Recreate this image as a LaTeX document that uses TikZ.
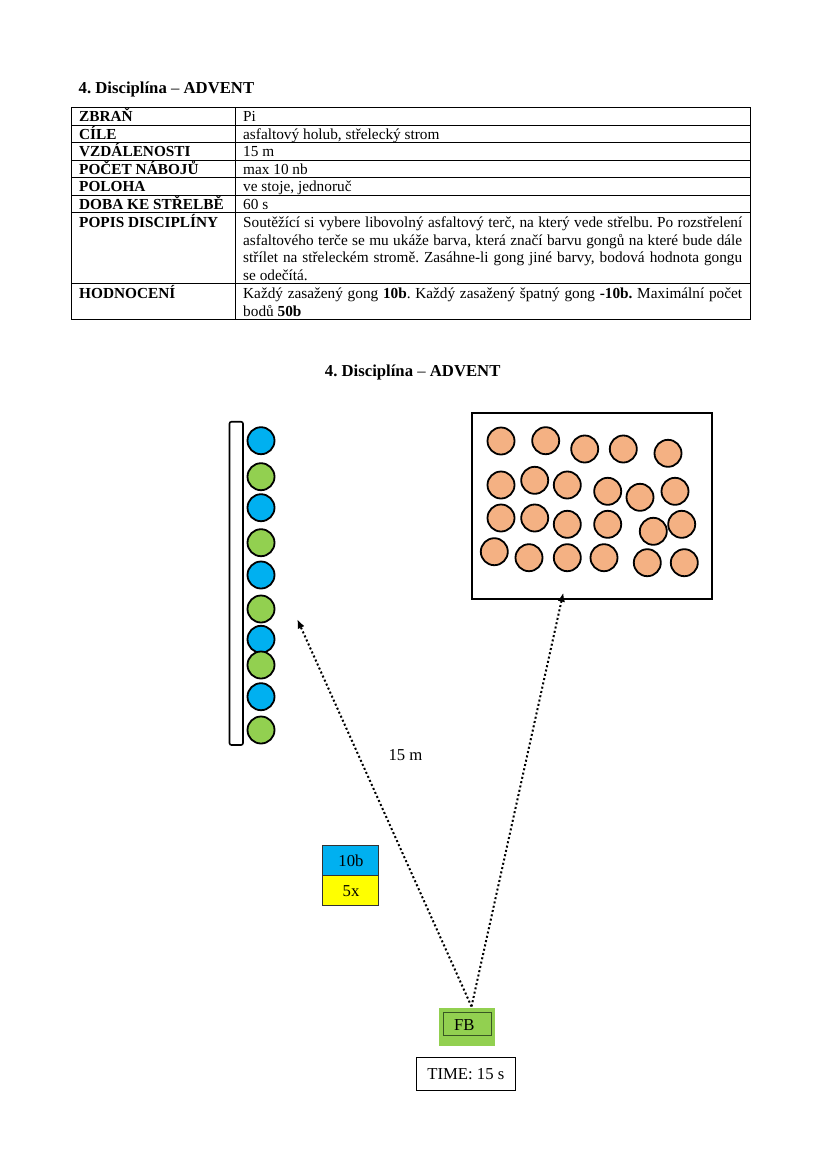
\documentclass[tikz,border=0pt]{standalone}
\usepackage{fontspec}
\setmainfont{Liberation Serif}
\usetikzlibrary{arrows.meta}
\definecolor{gblue}{RGB}{0,176,240}
\definecolor{ggreen}{RGB}{146,208,80}
\definecolor{gorange}{RGB}{244,177,131}
\definecolor{gyellow}{RGB}{255,255,0}
\definecolor{fbline}{RGB}{56,87,35}
\frenchspacing
\begin{document}
\begin{tikzpicture}[x=1pt,y=-1pt,
  tcell/.style={anchor=base west, inner sep=0pt, font=\fontsize{15.3}{17.6}\selectfont},
  tlabel/.style={tcell, font=\fontsize{15.3}{17.6}\selectfont\bfseries},
  heading/.style={inner sep=0pt, font=\fontsize{16.7}{19}\selectfont\bfseries},
  dtext/.style={inner sep=0pt, font=\fontsize{16.7}{19}\selectfont},
  rule/.style={line width=0.7pt},
  gong/.style={circle, draw=black, line width=1.8pt, minimum size=27pt, inner sep=0pt},
  bluegong/.style={gong, fill=gblue},
  greengong/.style={gong, fill=ggreen},
  clay/.style={gong, fill=gorange},
  legendbox/.style={draw=black!80, line width=0.6pt, minimum width=56pt, minimum height=30pt, inner sep=0pt, font=\fontsize{16.7}{19}\selectfont},
  shot/.style={line width=2pt, dash pattern=on 2pt off 2.4pt, -{Latex[length=9pt,width=7.5pt]}}
]
\useasboundingbox[fill=white] (0,0) rectangle (827,1170);

% ---------- heading ----------
\node[heading, anchor=base west] (h1) at (78.5,93.5) {4. Disciplína \textmd{–} ADVENT};

% ---------- table ----------
\draw[rule] (71,107.5) rectangle (750,319.5);
\draw[rule] (235,107.5) -- (235,319.5);
\foreach \yy in {125,142.5,160,177.5,195,212.5,283.5}
  \draw[rule] (71,\yy) -- (750,\yy);

\node[tlabel] (l1) at (79,121.5) {ZBRAŇ};
\node[tlabel] (l2) at (79,139) {CÍLE};
\node[tlabel] (l3) at (79,156.5) {VZDÁLENOSTI};
\node[tlabel] (l4) at (79,174) {POČET NÁBOJŮ};
\node[tlabel] (l5) at (79,191.5) {POLOHA};
\node[tlabel] (l6) at (79,209) {DOBA KE STŘELBĚ};
\node[tlabel] (l7) at (79,227.5) {POPIS DISCIPLÍNY};
\node[tlabel] (l8) at (79,298.5) {HODNOCENÍ};

\node[tcell] (v1) at (243,121.5) {Pi};
\node[tcell] (v2) at (243,139) {asfaltový holub, střelecký strom};
\node[tcell] (v3) at (243,156.5) {15 m};
\node[tcell] (v4) at (243,174) {max 10 nb};
\node[tcell] (v5) at (243,191.5) {ve stoje, jednoruč};
\node[tcell] (v6) at (243,209) {60 s};
\node[tcell] (v7a) at (243,227.5) {\makebox[499pt][s]{Soutěžící si vybere libovolný asfaltový terč, na který vede střelbu. Po rozstřelení}};
\node[tcell] (v7b) at (243,245) {\makebox[499pt][s]{asfaltového terče se mu ukáže barva, která značí barvu gongů na které bude dále}};
\node[tcell] (v7c) at (243,262.5) {\makebox[499pt][s]{střílet na střeleckém stromě. Zasáhne-li gong jiné barvy, bodová hodnota gongu}};
\node[tcell] (v7d) at (243,280) {se odečítá.};
\node[tcell] (v8a) at (243,298.5) {\makebox[499pt][s]{Každý zasažený gong \textbf{10b}. Každý zasažený špatný gong \textbf{-10b.} Maximální počet}};
\node[tcell] (v8b) at (243,316) {bodů \textbf{50b}};

% ---------- second heading ----------
\node[heading, anchor=base] (h2) at (412.7,376.7) {4. Disciplína \textmd{–} ADVENT};

% ---------- shooting tree (rack) ----------
\draw[line width=1.6pt, rounded corners=2pt] (229.5,421.7) rectangle (243,745);
\node[bluegong]  (g1)  at (261,440.7) {};
\node[greengong] (g2)  at (261,476.7) {};
\node[bluegong]  (g3)  at (261,507.7) {};
\node[greengong] (g4)  at (261,542.7) {};
\node[bluegong]  (g5)  at (261,575) {};
\node[greengong] (g6)  at (261,609) {};
\node[bluegong]  (g7)  at (261,639.3) {};
\node[greengong] (g8)  at (261,665) {};
\node[bluegong]  (g9)  at (261,696.7) {};
\node[greengong] (g10) at (261,730) {};

% ---------- clay target box ----------
\node[draw=black, line width=2pt, minimum width=240.6pt, minimum height=186.3pt, inner sep=0pt] (cbox) at (592,505.85) {};
\foreach \cx/\cy [count=\i] in {501/441, 545.7/440.7, 584.7/449, 623.3/449, 668/453.3,
  501/485, 534.7/480.3, 567.3/485, 607.7/491.3, 640/497.3, 675/491.3,
  501/518, 534.7/518, 567.3/524.3, 607.7/524.3, 653.3/531.3, 681.7/524.3,
  494.3/551.7, 529/557.7, 567.3/557.7, 604/557.7, 647.3/562.7, 684.3/562.7}
  \node[clay] (c\i) at (\cx,\cy) {};

% ---------- distance label ----------
\node[dtext, anchor=base] (dist) at (405.5,760.7) {15 m};

% ---------- legend ----------
\node[legendbox, fill=gblue] (leg1) at (350.5,860) {};
\node[legendbox, fill=gyellow, anchor=north] (leg2) at (leg1.south) {};
\node[dtext, anchor=base] (leg1t) at (351,866) {10b};
\node[dtext, anchor=base] (leg2t) at (351,896) {5x};

% ---------- firing box ----------
\node[fill=ggreen, minimum width=56pt, minimum height=38.3pt, inner sep=0pt] (fb) at (467.3,1026.85) {};
\node[draw=fbline, line width=0.9pt, minimum width=48.4pt, minimum height=23.4pt, inner sep=0pt] (fbin) at (467.5,1024) {};
\node[dtext, anchor=base west] (fbt) at (454,1030) {FB};
\coordinate (fbtop) at (471.5,1006.5);

% ---------- time ----------
\node[draw=black, line width=0.9pt, minimum width=98.7pt, minimum height=32.3pt, inner sep=0pt] (time) at (465.65,1073.85) {};
\node[dtext, anchor=base] (timet) at (465.8,1079.3) {TIME: 15 s};

% ---------- shots ----------
\coordinate (tleft) at (297.3,619.3);
\coordinate (tright) at (563.3,592.7);
\draw[shot] (fbtop) -- (tleft);
\draw[shot] (fbtop) -- (tright);
\end{tikzpicture}
\end{document}
